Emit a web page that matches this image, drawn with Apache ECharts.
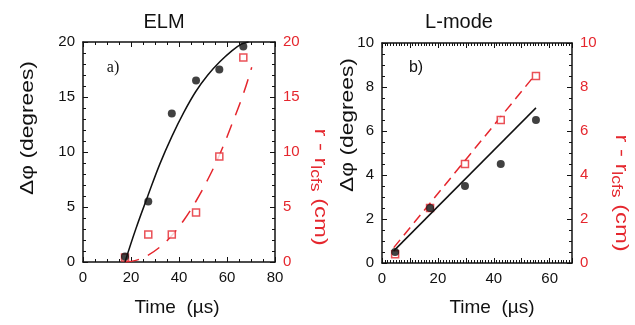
<!DOCTYPE html>
<html>
<head>
<meta charset="utf-8">
<script src="https://cdn.jsdelivr.net/npm/echarts@6/dist/echarts.min.js"></script>
<style>html,body{margin:0;padding:0;background:#fff;}#c{width:635px;height:325px;}</style>
</head>
<body>
<div id="c"></div>
<script>
// ---------- data ----------
const elmTime = [17.5, 27.2, 37.0, 47.1, 56.8, 66.8];
const elmPhase = [0.5, 5.5, 13.5, 16.5, 17.5, 19.6];
const elmRadius = [0.4, 2.5, 2.5, 4.5, 9.6, 18.6];
const elmPhaseFitTime = [17.5, 22, 27, 32, 37, 42, 47, 52, 57, 62, 66, 69];
const elmPhaseFit = [0, 3.0, 6.0, 8.9, 11.4, 13.6, 15.5, 17.0, 18.2, 19.2, 19.8, 20.0];
const elmRadiusFitTime = [17.5, 22, 27, 32, 37, 42, 47, 52, 57, 62, 67, 70.3];
const elmRadiusFit = [0, 0.15, 0.6, 1.35, 2.4, 3.8, 5.5, 7.5, 9.8, 12.5, 15.4, 17.7];

const lTime = [4.7, 17.2, 29.7, 42.5, 55.1];
const lPhase = [0.5, 2.5, 3.5, 4.5, 6.5];
const lRadius = [0.4, 2.5, 4.5, 6.5, 8.5];
const lPhaseFitTime = [4.2, 55.1];
const lPhaseFit = [0.55, 7.05];
const lRadiusFitTime = [4.2, 55.1];
const lRadiusFit = [0.7, 8.6];

const titles = ['ELM', 'L-mode'];
const panelTags = ['a)', 'b)'];
const xTitle = 'Time  (\u00b5s)';
const yLeftTitle = '\u0394\u03c6 (degrees)';
const yRightParts = ['r - r', 'lcfs', ' (cm)'];

// ---------- style ----------
const RED = '#e5262d';
const BLACK = '#111';
const FONT = '"Liberation Sans", Arial, sans-serif';
const zip = (a, b) => a.map((v, i) => [v, b[i]]);

function xAx(grid, pos, max, interval, minorSplit, showLabel, fmt) {
  return {
    type: 'value', gridIndex: grid, position: pos, min: 0, max: max, interval: interval,
    axisLine: {show: true, onZero: false, lineStyle: {color: BLACK, width: 1.5}},
    axisTick: {show: true, inside: true, length: 5, lineStyle: {color: BLACK, width: 1}},
    minorTick: {show: true, splitNumber: minorSplit, length: 3, lineStyle: {color: BLACK, width: 1}},
    splitLine: {show: false},
    axisLabel: {show: showLabel, color: BLACK, fontSize: 15, fontFamily: FONT, margin: 8,
      formatter: fmt || (v => v)}
  };
}
function yAx(grid, pos, max, interval, minorSplit, color) {
  return {
    type: 'value', gridIndex: grid, position: pos, min: 0, max: max, interval: interval,
    axisLine: {show: true, onZero: false, lineStyle: {color: BLACK, width: 1.5}},
    axisTick: {show: true, inside: true, length: 5, lineStyle: {color: BLACK, width: 1}},
    minorTick: {show: true, splitNumber: minorSplit, length: 3, lineStyle: {color: BLACK, width: 1}},
    splitLine: {show: false},
    axisLabel: {show: true, color: color, fontSize: 15, fontFamily: FONT, margin: 8}
  };
}

const measureCtx = document.createElement('canvas').getContext('2d');
function textWidth(t, size) {
  measureCtx.font = size + 'px ' + FONT;
  return measureCtx.measureText(t).width;
}

function txt(x, y, text, size, color, rot, scale, family) {
  return {
    type: 'text', x: x, y: y, rotation: rot || 0, scaleX: scale || 1,
    style: {text: text, fill: color, font: size + 'px ' + (family || FONT), align: 'center', verticalAlign: 'middle'}
  };
}
// rotated label with subscript, built as a group
function subLabel(cx, cy, rot, scale) {
  const big = 19, small = 14;
  const w0 = textWidth(yRightParts[0], big);
  const w1 = textWidth(yRightParts[1], small);
  const w2 = textWidth(yRightParts[2], big);
  const start = -(w0 + w1 + w2) / 2;
  const mk = (t, x, y, s) => ({type: 'text', x: x, y: y,
    style: {text: t, fill: RED, font: s + 'px ' + FONT, align: 'left', verticalAlign: 'middle'}});
  return {
    type: 'group', x: cx, y: cy, rotation: rot, scaleX: scale,
    children: [
      mk(yRightParts[0], start, 0, big),
      mk(yRightParts[1], start + w0, 5, small),
      mk(yRightParts[2], start + w0 + w1, 0, big)
    ]
  };
}

const chart = echarts.init(document.getElementById('c'), null, {renderer: 'canvas'});
chart.setOption({
  backgroundColor: '#fff',
  animation: false,
  grid: [
    {left: 83, top: 42, width: 192, height: 220},
    {left: 382, top: 43, width: 190, height: 220}
  ],
  xAxis: [
    xAx(0, 'bottom', 80, 20, 4, true),
    xAx(0, 'top', 80, 20, 4, false),
    xAx(1, 'bottom', 68, 10, 10, true, v => (v % 20 === 0 ? v : '')),
    xAx(1, 'top', 68, 10, 10, false)
  ],
  yAxis: [
    yAx(0, 'left', 20, 5, 5, BLACK),
    yAx(0, 'right', 20, 5, 5, RED),
    yAx(1, 'left', 10, 2, 4, BLACK),
    yAx(1, 'right', 10, 2, 4, RED)
  ],
  series: [
    {type: 'line', xAxisIndex: 0, yAxisIndex: 1, data: zip(elmRadiusFitTime, elmRadiusFit), smooth: 0.4,
      showSymbol: false, lineStyle: {color: RED, width: 1.5, type: [14, 10]}, z: 2},
    {type: 'scatter', xAxisIndex: 0, yAxisIndex: 1, data: zip(elmTime, elmRadius), symbol: 'rect', symbolSize: 7,
      itemStyle: {color: '#fff', borderColor: RED, borderWidth: 1.5}, z: 3},
    {type: 'line', xAxisIndex: 0, yAxisIndex: 0, data: zip(elmPhaseFitTime, elmPhaseFit), smooth: 0.4,
      showSymbol: false, lineStyle: {color: BLACK, width: 1.5}, z: 4},
    {type: 'scatter', xAxisIndex: 0, yAxisIndex: 0, data: zip(elmTime, elmPhase), symbol: 'circle', symbolSize: 8,
      itemStyle: {color: BLACK}, z: 5},

    {type: 'line', xAxisIndex: 2, yAxisIndex: 3, data: zip(lRadiusFitTime, lRadiusFit),
      showSymbol: false, lineStyle: {color: RED, width: 1.5, type: [10, 6]}, z: 2},
    {type: 'scatter', xAxisIndex: 2, yAxisIndex: 3, data: zip(lTime, lRadius), symbol: 'rect', symbolSize: 7,
      itemStyle: {color: '#fff', borderColor: RED, borderWidth: 1.5}, z: 3},
    {type: 'line', xAxisIndex: 2, yAxisIndex: 2, data: zip(lPhaseFitTime, lPhaseFit),
      showSymbol: false, lineStyle: {color: BLACK, width: 1.5}, z: 4},
    {type: 'scatter', xAxisIndex: 2, yAxisIndex: 2, data: zip(lTime, lPhase), symbol: 'circle', symbolSize: 8,
      itemStyle: {color: BLACK}, z: 5}
  ],
  graphic: [
    txt(164, 22, titles[0], 20, BLACK),
    txt(459, 22, titles[1], 20, BLACK),
    txt(113, 68, panelTags[0], 16, BLACK, 0, 1, '"Liberation Serif", serif'),
    txt(416, 68, panelTags[1], 16, BLACK),
    txt(177, 308, xTitle, 19, BLACK),
    txt(492, 308, xTitle, 19, BLACK),
    txt(28, 128, yLeftTitle, 19, BLACK, Math.PI / 2, 1.2),
    txt(348, 125, yLeftTitle, 19, BLACK, Math.PI / 2, 1.2),
    subLabel(320, 187, -Math.PI / 2, 1.25),
    subLabel(621, 193, -Math.PI / 2, 1.25)
  ]
});
</script>
</body>
</html>
